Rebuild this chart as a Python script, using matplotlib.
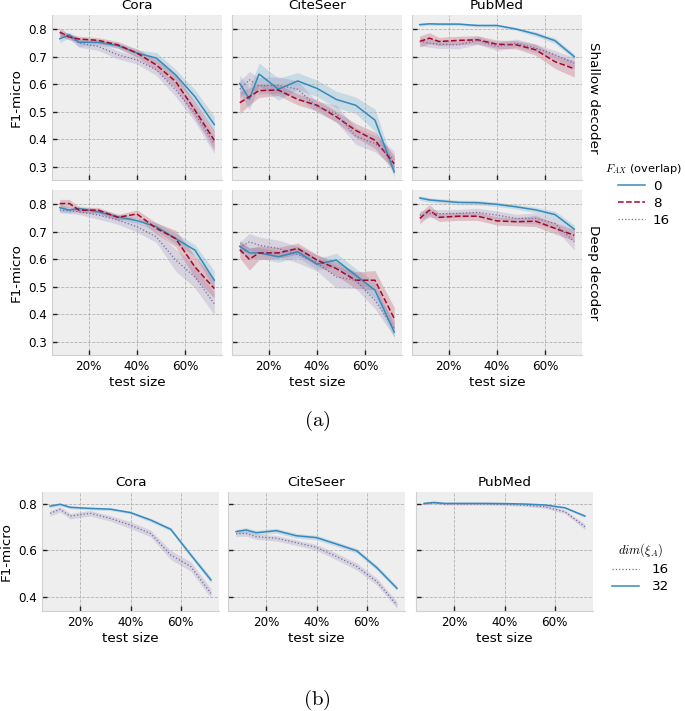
import numpy as np
import matplotlib.pyplot as plt
from matplotlib.lines import Line2D
from matplotlib.ticker import PercentFormatter

plt.style.use("bmh")
plt.rcParams["font.family"] = "DejaVu Sans"
plt.rcParams["mathtext.fontset"] = "cm"

test_size = [0.08, 0.12, 0.16, 0.24, 0.32, 0.40, 0.48, 0.56, 0.64, 0.72]
datasets = ["Cora", "CiteSeer", "PubMed"]
decoders = ["Shallow decoder", "Deep decoder"]
overlaps = ["0", "8", "16"]
dims = ["16", "32"]

# (a) mean F1-micro, shallow decoder
cora_shallow_0 = [0.765, 0.779, 0.752, 0.752, 0.740, 0.713, 0.695, 0.634, 0.555, 0.454]
cora_shallow_8 = [0.789, 0.771, 0.764, 0.759, 0.743, 0.713, 0.670, 0.610, 0.506, 0.397]
cora_shallow_16 = [0.785, 0.773, 0.749, 0.737, 0.707, 0.688, 0.652, 0.580, 0.494, 0.383]
cite_shallow_0 = [0.603, 0.546, 0.637, 0.582, 0.612, 0.585, 0.545, 0.524, 0.470, 0.282]
cite_shallow_8 = [0.533, 0.555, 0.577, 0.579, 0.545, 0.524, 0.482, 0.433, 0.397, 0.312]
cite_shallow_16 = [0.582, 0.616, 0.594, 0.597, 0.582, 0.518, 0.494, 0.412, 0.385, 0.327]
pub_shallow_0 = [0.816, 0.819, 0.818, 0.818, 0.813, 0.813, 0.800, 0.782, 0.758, 0.700]
pub_shallow_8 = [0.755, 0.767, 0.755, 0.759, 0.761, 0.745, 0.743, 0.725, 0.682, 0.656]
pub_shallow_16 = [0.755, 0.749, 0.745, 0.743, 0.759, 0.737, 0.749, 0.731, 0.707, 0.676]

# (a) mean F1-micro, deep decoder
cora_deep_0 = [0.787, 0.778, 0.784, 0.772, 0.754, 0.740, 0.718, 0.675, 0.633, 0.524]
cora_deep_8 = [0.802, 0.802, 0.778, 0.778, 0.752, 0.764, 0.712, 0.675, 0.572, 0.494]
cora_deep_16 = [0.778, 0.776, 0.772, 0.760, 0.742, 0.718, 0.681, 0.597, 0.536, 0.439]
cite_deep_0 = [0.647, 0.623, 0.623, 0.609, 0.627, 0.582, 0.597, 0.542, 0.488, 0.336]
cite_deep_8 = [0.635, 0.600, 0.623, 0.623, 0.639, 0.597, 0.566, 0.524, 0.524, 0.385]
cite_deep_16 = [0.643, 0.663, 0.651, 0.639, 0.617, 0.587, 0.536, 0.524, 0.451, 0.348]
pub_deep_0 = [0.822, 0.815, 0.812, 0.806, 0.805, 0.799, 0.790, 0.779, 0.762, 0.709]
pub_deep_8 = [0.748, 0.778, 0.752, 0.756, 0.756, 0.739, 0.736, 0.738, 0.712, 0.687]
pub_deep_16 = [0.760, 0.766, 0.765, 0.766, 0.770, 0.760, 0.748, 0.748, 0.730, 0.663]

# (a) confidence band half-widths
cora_shallow_ci = [[0.015, 0.010, 0.015, 0.010, 0.010, 0.012, 0.020, 0.020, 0.025, 0.030],
                   [0.015, 0.010, 0.010, 0.010, 0.012, 0.015, 0.020, 0.025, 0.030, 0.035],
                   [0.010, 0.010, 0.015, 0.015, 0.015, 0.015, 0.020, 0.025, 0.030, 0.035]]
cite_shallow_ci = [[0.030, 0.040, 0.040, 0.040, 0.030, 0.030, 0.030, 0.030, 0.040, 0.020],
                   [0.040, 0.030, 0.025, 0.020, 0.020, 0.020, 0.020, 0.025, 0.030, 0.030],
                   [0.030, 0.030, 0.030, 0.030, 0.030, 0.020, 0.030, 0.030, 0.030, 0.030]]
pub_shallow_ci = [[0.005, 0.005, 0.005, 0.005, 0.005, 0.005, 0.005, 0.008, 0.010, 0.010],
                  [0.020, 0.020, 0.015, 0.015, 0.015, 0.015, 0.015, 0.020, 0.025, 0.030],
                  [0.015, 0.015, 0.015, 0.015, 0.015, 0.015, 0.015, 0.015, 0.015, 0.020]]
cora_deep_ci = [[0.015, 0.010, 0.010, 0.010, 0.010, 0.010, 0.015, 0.020, 0.020, 0.035],
                [0.015, 0.015, 0.010, 0.010, 0.010, 0.015, 0.020, 0.030, 0.040, 0.035],
                [0.010, 0.010, 0.010, 0.015, 0.015, 0.020, 0.020, 0.040, 0.040, 0.040]]
cite_deep_ci = [[0.020, 0.020, 0.020, 0.020, 0.020, 0.020, 0.025, 0.025, 0.030, 0.020],
                [0.030, 0.040, 0.025, 0.020, 0.020, 0.020, 0.025, 0.030, 0.035, 0.040],
                [0.020, 0.030, 0.030, 0.030, 0.030, 0.030, 0.040, 0.030, 0.030, 0.030]]
pub_deep_ci = [[0.008, 0.008, 0.008, 0.008, 0.008, 0.008, 0.008, 0.010, 0.012, 0.015],
               [0.020, 0.020, 0.015, 0.015, 0.015, 0.015, 0.015, 0.020, 0.020, 0.020],
               [0.015, 0.015, 0.015, 0.015, 0.015, 0.015, 0.015, 0.020, 0.020, 0.030]]

# (b) mean F1-micro per dim(xi_A)
cora_dim16 = [0.760, 0.777, 0.748, 0.760, 0.738, 0.709, 0.673, 0.580, 0.530, 0.414]
cora_dim32 = [0.791, 0.799, 0.786, 0.781, 0.778, 0.763, 0.731, 0.691, 0.580, 0.472]
cite_dim16 = [0.671, 0.673, 0.659, 0.652, 0.633, 0.613, 0.573, 0.530, 0.465, 0.364]
cite_dim32 = [0.681, 0.688, 0.676, 0.685, 0.663, 0.655, 0.627, 0.598, 0.525, 0.436]
pub_dim16 = [0.800, 0.805, 0.800, 0.800, 0.800, 0.798, 0.795, 0.788, 0.767, 0.702]
pub_dim32 = [0.803, 0.807, 0.803, 0.803, 0.803, 0.802, 0.800, 0.796, 0.784, 0.748]
cora_dim_ci = [[0.012, 0.012, 0.012, 0.012, 0.012, 0.015, 0.015, 0.020, 0.020, 0.020],
               [0.008, 0.006, 0.006, 0.006, 0.006, 0.006, 0.008, 0.008, 0.010, 0.012]]
cite_dim_ci = [[0.012, 0.012, 0.012, 0.012, 0.012, 0.012, 0.015, 0.015, 0.015, 0.015],
               [0.010, 0.010, 0.010, 0.010, 0.010, 0.010, 0.010, 0.010, 0.010, 0.010]]
pub_dim_ci = [[0.004, 0.004, 0.004, 0.004, 0.004, 0.004, 0.005, 0.006, 0.008, 0.012],
              [0.003, 0.003, 0.003, 0.003, 0.003, 0.003, 0.003, 0.004, 0.005, 0.006]]

panels_a = [
    [([cora_shallow_0, cora_shallow_8, cora_shallow_16], cora_shallow_ci),
     ([cite_shallow_0, cite_shallow_8, cite_shallow_16], cite_shallow_ci),
     ([pub_shallow_0, pub_shallow_8, pub_shallow_16], pub_shallow_ci)],
    [([cora_deep_0, cora_deep_8, cora_deep_16], cora_deep_ci),
     ([cite_deep_0, cite_deep_8, cite_deep_16], cite_deep_ci),
     ([pub_deep_0, pub_deep_8, pub_deep_16], pub_deep_ci)],
]
panels_b = [([cora_dim16, cora_dim32], cora_dim_ci),
            ([cite_dim16, cite_dim32], cite_dim_ci),
            ([pub_dim16, pub_dim32], pub_dim_ci)]

blue, red, purple = "#348ABD", "#A60628", "#7A68A6"
styles_a = [(blue, "-", 1.1), (red, "--", 1.1), (purple, ":", 0.9)]
styles_b = [(purple, ":", 0.9), (blue, "-", 1.1)]

W, H = 685, 711
fig = plt.figure(figsize=(W / 100, H / 100), dpi=100)
x = np.array(test_size)


def style_axes(ax, yticks, ylim, show_x, show_y):
    ax.set_ylim(*ylim)
    ax.set_yticks(yticks)
    ax.set_xticks([0.2, 0.4, 0.6])
    ax.xaxis.set_major_formatter(PercentFormatter(1.0, decimals=0))
    ax.tick_params(direction="in", length=3.5, width=1, color="#222222",
                   labelsize=8.6, top=False, right=False)
    ax.tick_params(labelbottom=show_x, labelleft=show_y)
    for s in ["top", "right"]:
        ax.spines[s].set_visible(False)
    for s in ["left", "bottom"]:
        ax.spines[s].set_color("#d0d0d0")
    ax.grid(True, color="#b2b2b2", linestyle="--", linewidth=0.6)
    if show_x:
        ax.set_xlabel("test size", fontsize=9.7, labelpad=2)
    if show_y:
        ax.set_ylabel("F1-micro", fontsize=9.7, labelpad=4)


def draw_lines(ax, means, cis, styles):
    for (col, ls, lw), m, ci in zip(styles, means, cis):
        m = np.array(m)
        ci = np.array(ci)
        ax.fill_between(x, m - ci, m + ci, color=col, alpha=0.2, lw=0)
        ax.plot(x, m, color=col, ls=ls, lw=lw)


# ---- (a) ----
col_left = [52, 232, 412]
row_top = [15, 190]
for r in range(2):
    for c in range(3):
        ax = fig.add_axes([col_left[c] / W, 1 - (row_top[r] + 165) / H, 170 / W, 165 / H])
        means, cis = panels_a[r][c]
        draw_lines(ax, means, cis, styles_a)
        style_axes(ax, [0.3, 0.4, 0.5, 0.6, 0.7, 0.8], (0.253, 0.851), r == 1, c == 0)
        if r == 0:
            ax.set_title(datasets[c], fontsize=9.7, pad=4)
        if c == 2:
            ax.text(1.03, 0.5, decoders[r], transform=ax.transAxes, rotation=270,
                    va="center", ha="left", fontsize=9.7)

handles_a = [Line2D([], [], color=col, ls=ls, lw=lw) for col, ls, lw in styles_a]
fig.legend(handles_a, overlaps, loc="upper right", frameon=False,
           bbox_to_anchor=(1.0, 1 - 159 / H), fontsize=9.7,
           title="$F_{AX}$ (overlap)", title_fontsize=8.2,
           handlelength=2.0, labelspacing=0.3, handletextpad=0.6,
           borderpad=0.1, borderaxespad=0.1)

fig.text(317 / W, 1 - 421 / H, r"$\mathrm{(a)}$", fontsize=15, ha="center", va="center")

# ---- (b) ----
col_left_b = [42, 228, 416]
for c in range(3):
    ax = fig.add_axes([col_left_b[c] / W, 1 - 611 / H, 177 / W, 119 / H])
    means, cis = panels_b[c]
    draw_lines(ax, means, cis, styles_b)
    style_axes(ax, [0.4, 0.6, 0.8], (0.338, 0.852), True, c == 0)
    ax.set_title(datasets[c], fontsize=9.7, pad=4)

handles_b = [Line2D([], [], color=col, ls=ls, lw=lw) for col, ls, lw in styles_b]
fig.legend(handles_b, dims, loc="upper left", frameon=False,
           bbox_to_anchor=(603 / W, 1 - 532 / H), fontsize=9.7,
           title=r"$dim(\xi_A)$", title_fontsize=9.0,
           handlelength=2.0, labelspacing=0.3, handletextpad=0.9,
           borderpad=0.2)

fig.text(317 / W, 1 - 700 / H, r"$\mathrm{(b)}$", fontsize=15, ha="center", va="center")

fig.savefig("out.png", dpi=100, facecolor="white")
